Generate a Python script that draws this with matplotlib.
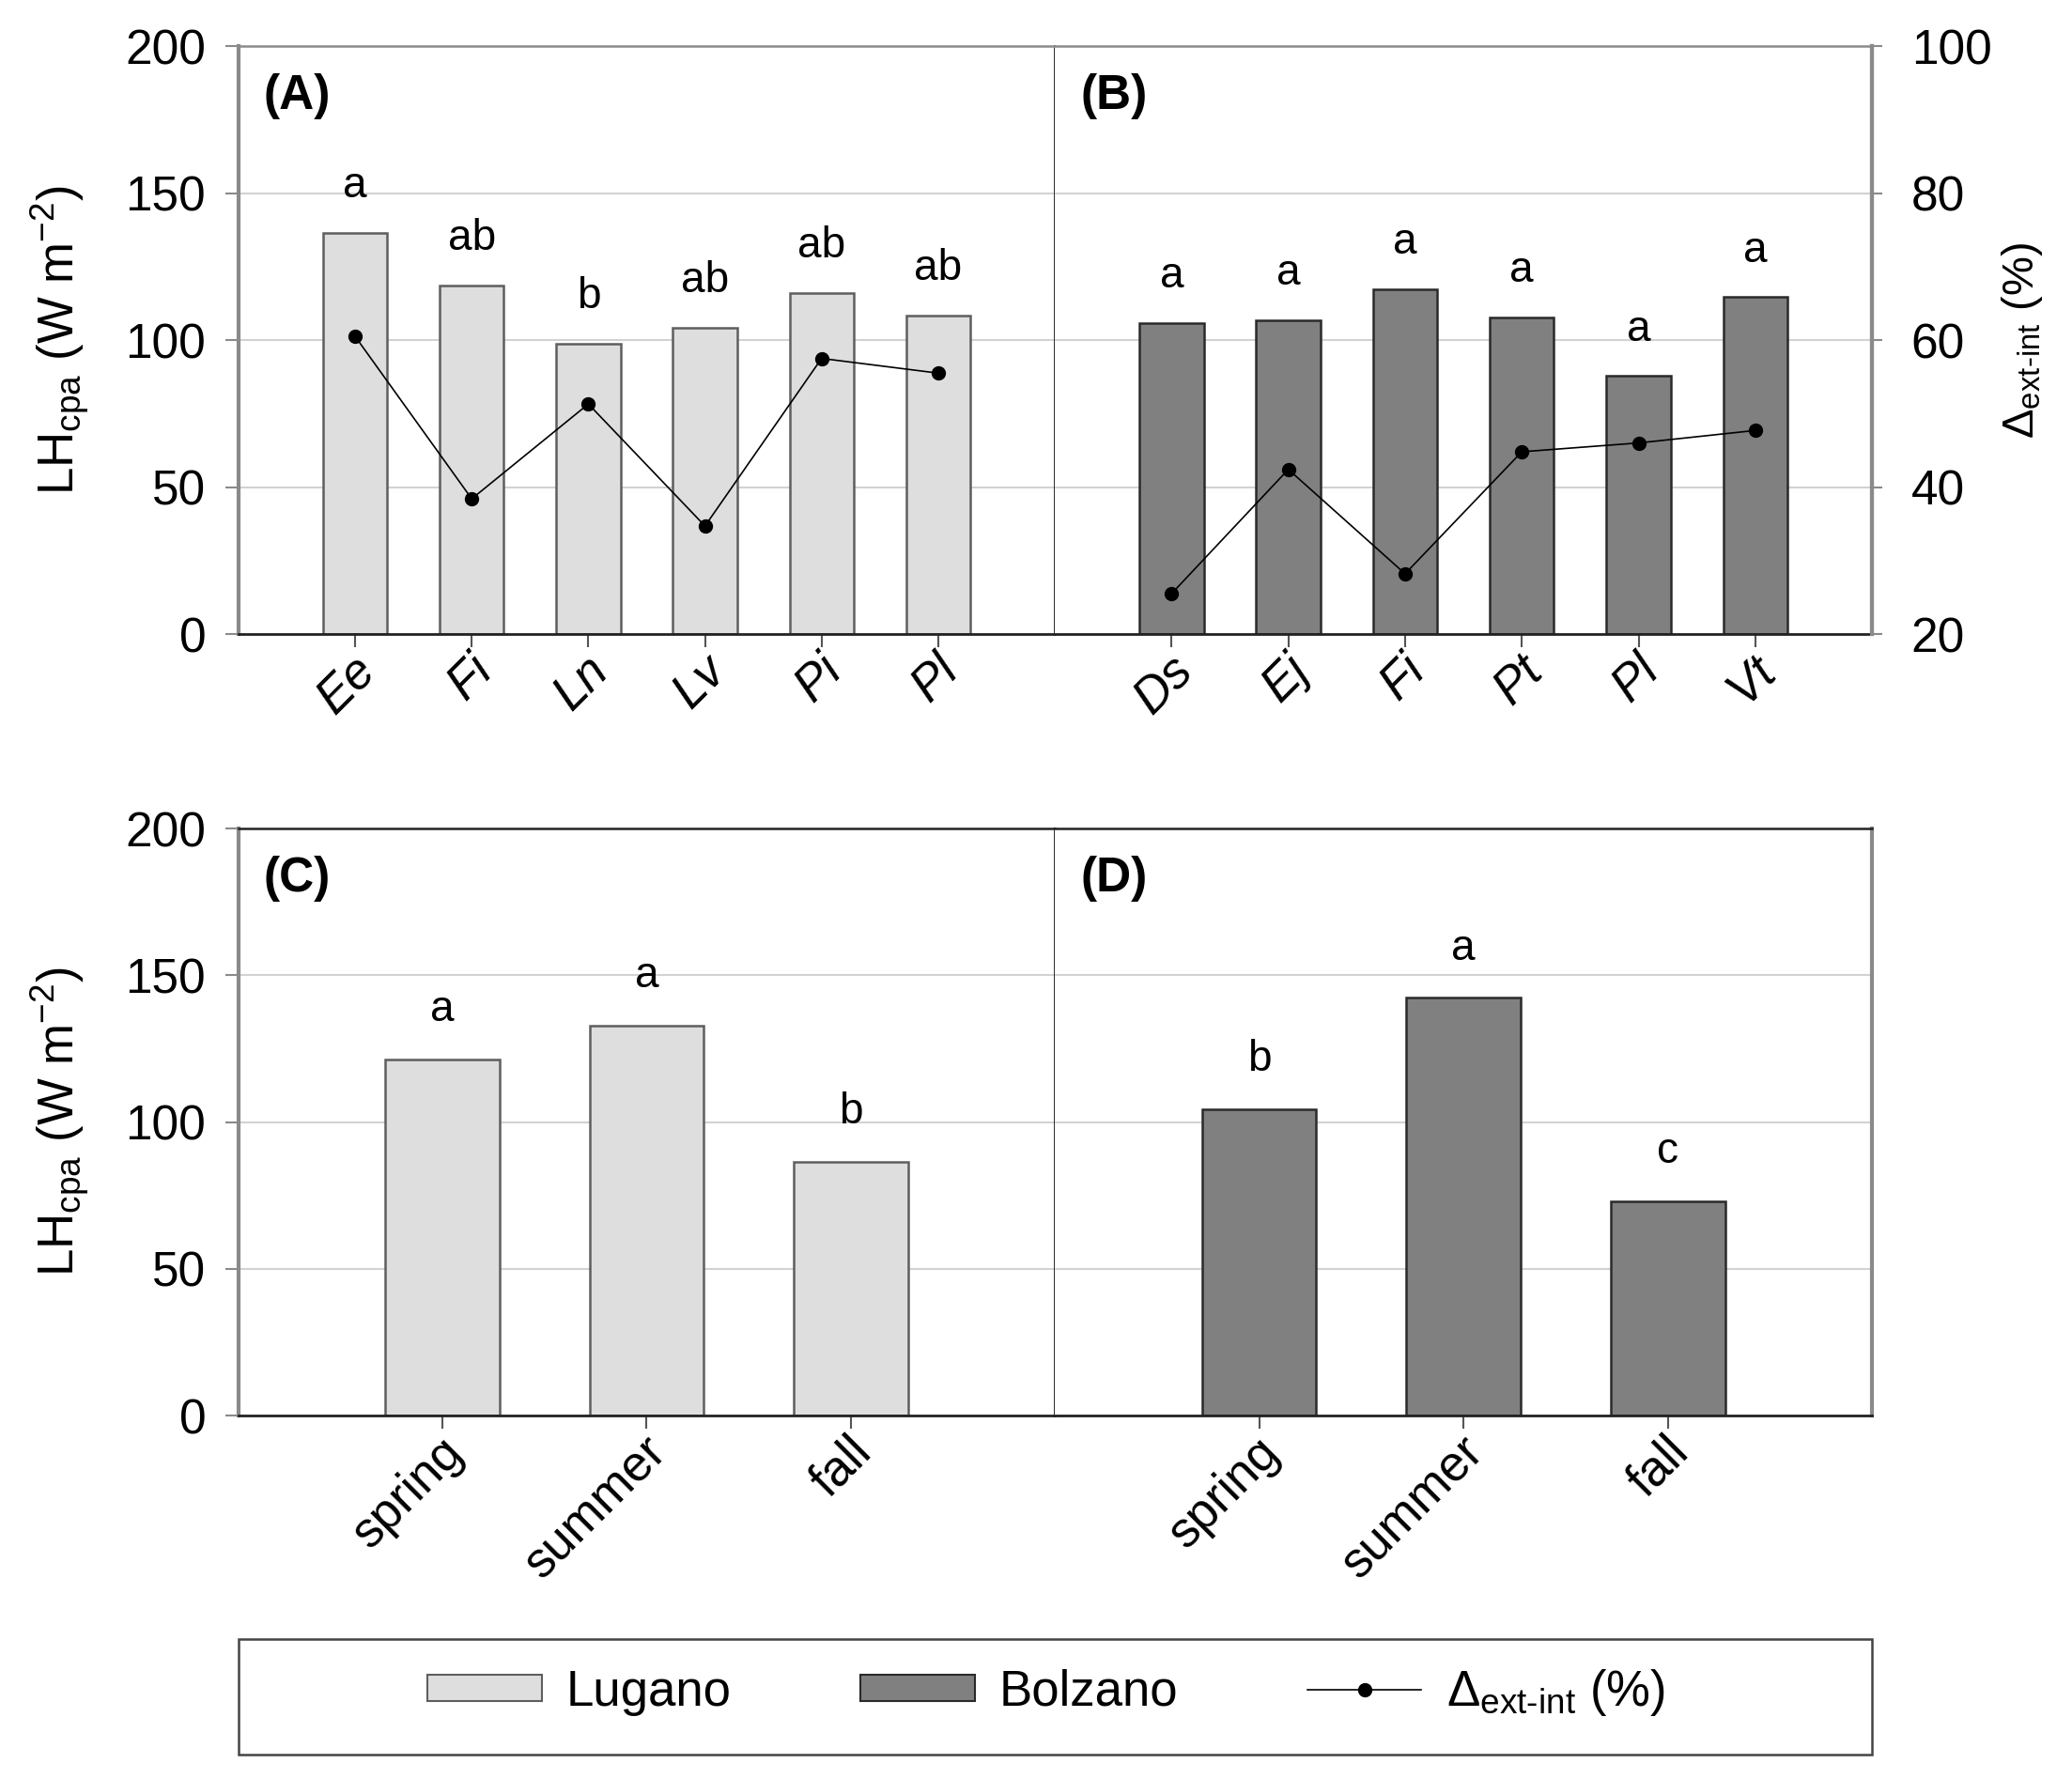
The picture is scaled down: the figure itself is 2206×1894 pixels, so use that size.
import matplotlib
matplotlib.use('Agg')
import matplotlib.pyplot as plt
from matplotlib.patches import Rectangle, Patch
from matplotlib.lines import Line2D
from matplotlib.transforms import ScaledTranslation

plt.rcParams['font.family'] = ['Liberation Sans', 'DejaVu Sans']
plt.rcParams['mathtext.fontset'] = 'custom'
plt.rcParams['mathtext.rm'] = 'Liberation Sans'
plt.rcParams['mathtext.it'] = 'Liberation Sans:italic'
plt.rcParams['mathtext.bf'] = 'Liberation Sans:bold'

# ---------------- data ----------------
species_lugano = ['Ee', 'Fi', 'Ln', 'Lv', 'Pi', 'Pl']
lh_lugano = [136.5, 118.7, 98.8, 104.3, 116.1, 108.4]
delta_lugano = [60.5, 38.4, 51.3, 34.7, 57.5, 55.5]
letters_lugano = ['a', 'ab', 'b', 'ab', 'ab', 'ab']

species_bolzano = ['Ds', 'Ej', 'Fi', 'Pt', 'Pl', 'Vt']
lh_bolzano = [105.8, 106.8, 117.4, 107.8, 87.8, 114.6]
delta_bolzano = [25.5, 42.4, 28.2, 44.8, 46.0, 47.7]
letters_bolzano = ['a', 'a', 'a', 'a', 'a', 'a']

seasons = ['spring', 'summer', 'fall']
lh_season_lugano = [121.3, 132.9, 86.4]
letters_season_lugano = ['a', 'a', 'b']
lh_season_bolzano = [104.4, 142.3, 73.0]
letters_season_bolzano = ['b', 'a', 'c']

yticks_left = [0, 50, 100, 150, 200]
yticks_right = [20, 40, 60, 80, 100]

# ---------------- style ----------------
LUG_FACE, LUG_EDGE = '#dedede', '#5e5e5e'
BOL_FACE, BOL_EDGE = '#808080', '#2a2a2a'
GRID = '#d2d2d2'
OUTER = '#8a8a8a'
DARK = '#222222'
TICK_FS = 37
XT_FS = 38
LET_FS = 33

fig = plt.figure(figsize=(22.06, 18.94), dpi=100)

L, MID, R = 0.1151, 0.5091, 0.9035
axA = fig.add_axes([L, 0.6436, MID - L, 0.3305])
axB = fig.add_axes([MID, 0.6436, R - MID, 0.3305])
axC = fig.add_axes([L, 0.2043, MID - L, 0.330])
axD = fig.add_axes([MID, 0.2043, R - MID, 0.330])


def style(ax, left, top_row):
    ax.set_ylim(0, 200)
    ax.set_axisbelow(True)
    for y in [50, 100, 150]:
        ax.axhline(y, color=GRID, lw=1.5, zorder=0)
    ax.spines['bottom'].set_color(DARK)
    ax.spines['bottom'].set_linewidth(2)
    ax.spines['top'].set_color(OUTER if top_row else DARK)
    ax.spines['top'].set_linewidth(1.8)
    if left:
        ax.spines['left'].set_color(OUTER)
        ax.spines['left'].set_linewidth(3)
        ax.spines['right'].set_color('#2a2a2a')
        ax.spines['right'].set_linewidth(1.4)
        ax.set_yticks(yticks_left)
        ax.set_yticklabels([str(v) for v in yticks_left])
        ax.tick_params(axis='y', direction='out', length=10, width=1.5,
                       color=OUTER, labelsize=TICK_FS, pad=15)
        ax.set_ylabel(r'LH$_{\mathrm{cpa}}$ (W m$^{-2}$)', fontsize=38, labelpad=26)
    else:
        ax.spines['left'].set_visible(False)
        ax.spines['right'].set_color(OUTER)
        ax.spines['right'].set_linewidth(3)
        ax.set_yticks([])
    ax.tick_params(axis='x', direction='out', length=10, width=1.5, color='#555555',
                   labelsize=XT_FS, pad=14)


def bars(ax, labels, values, letters, face, edge, italic, width, off):
    x = list(range(1, len(labels) + 1))
    ax.bar(x, values, width=width, color=face, edgecolor=edge, linewidth=1.8, zorder=2)
    ax.set_xlim(0, len(labels) + 1)
    ax.set_xticks(x)
    ax.set_xticklabels(labels, rotation=45, ha='right', va='center',
                       rotation_mode='anchor',
                       fontstyle='italic' if italic else 'normal')
    shift = ScaledTranslation(14 / 100, 2 / 100, fig.dpi_scale_trans)
    for lab in ax.get_xticklabels():
        lab.set_transform(lab.get_transform() + shift)
    for xi, v, t in zip(x, values, letters):
        ax.text(xi, v + off, t, ha='center', va='baseline', fontsize=LET_FS, zorder=3)
    return x


style(axA, True, True)
style(axB, False, True)
style(axC, True, False)
style(axD, False, False)

xA = bars(axA, species_lugano, lh_lugano, letters_lugano, LUG_FACE, LUG_EDGE, True, 0.55, 12)
xB = bars(axB, species_bolzano, lh_bolzano, letters_bolzano, BOL_FACE, BOL_EDGE, True, 0.55, 12)
bars(axC, seasons, lh_season_lugano, letters_season_lugano, LUG_FACE, LUG_EDGE, False, 0.56, 13)
bars(axD, seasons, lh_season_bolzano, letters_season_bolzano, BOL_FACE, BOL_EDGE, False, 0.56, 13)

# delta lines on right scale
twA = axA.twinx()
twA.set_ylim(20, 100)
twA.axis('off')
twA.plot(xA, delta_lugano, color='black', lw=1.2, marker='o', ms=10, zorder=4)

twB = axB.twinx()
twB.set_ylim(20, 100)
twB.plot(xB, delta_bolzano, color='black', lw=1.2, marker='o', ms=10, zorder=4)
for s in ['left', 'top', 'bottom']:
    twB.spines[s].set_visible(False)
twB.spines['right'].set_color(OUTER)
twB.spines['right'].set_linewidth(3)
twB.set_yticks(yticks_right)
twB.set_yticklabels([str(v) for v in yticks_right])
twB.tick_params(axis='y', direction='out', length=8, width=1.5, color=OUTER,
                labelsize=TICK_FS, pad=22)
twB.set_ylabel('Δ$_{\\mathrm{ext\\text{-}int}}$ (%)', fontsize=34, labelpad=6)

# panel labels
for ax, lab in [(axA, '(A)'), (axB, '(B)'), (axC, '(C)'), (axD, '(D)')]:
    ax.text(0.031, 0.914, lab, transform=ax.transAxes, fontsize=37,
            fontweight='bold', ha='left', va='center')

# legend
handles = [Patch(facecolor=LUG_FACE, edgecolor=LUG_EDGE, linewidth=1.5),
           Patch(facecolor=BOL_FACE, edgecolor=BOL_EDGE, linewidth=1.5),
           Line2D([], [], color='black', lw=1.2, marker='o', ms=10)]
labels = ['Lugano', 'Bolzano', 'Δ$_{\\mathrm{ext\\text{-}int}}$ (%)']
fig.legend(handles, labels, loc='center', bbox_to_anchor=(0.505, 0.0486), ncol=3,
           frameon=False, fontsize=38, handlelength=2.3, handleheight=0.45,
           columnspacing=2.6, handletextpad=0.5)
fig.add_artist(Rectangle((L, 0.0137), R - L, 0.065, transform=fig.transFigure,
                         fill=False, edgecolor='#444444', lw=1.8))

fig.savefig('out.png', dpi=100)
